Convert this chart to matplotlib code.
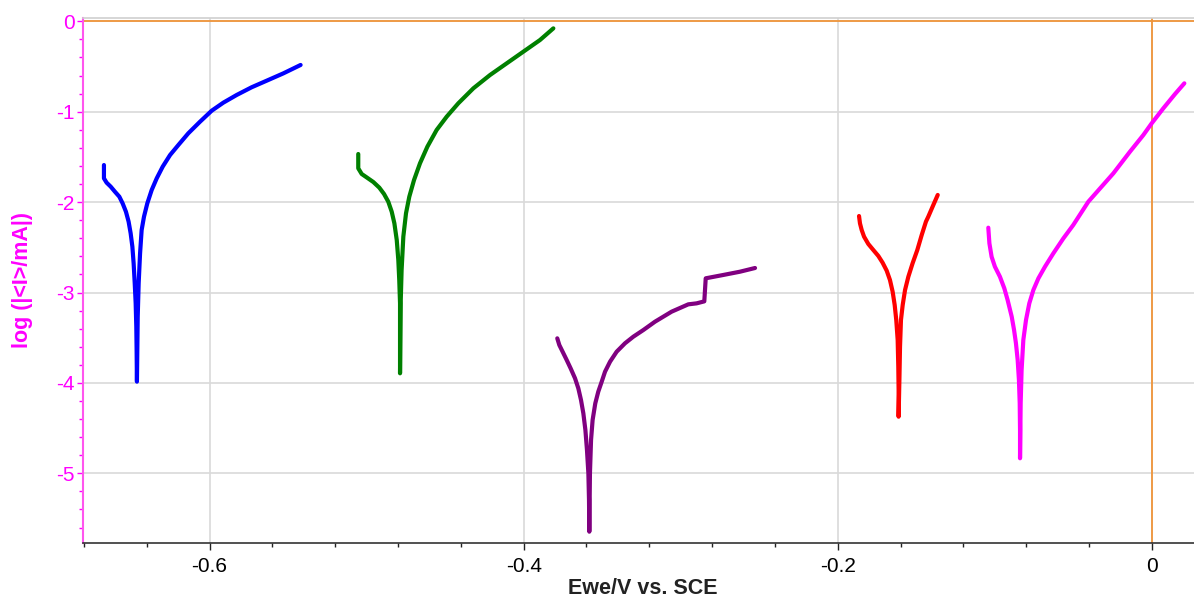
import matplotlib
matplotlib.use("Agg")
import matplotlib.pyplot as plt
from matplotlib.ticker import MultipleLocator

plt.rcParams['font.family'] = ['Liberation Sans', 'DejaVu Sans']

# Potential (V vs SCE) and log|I| (mA) for each polarisation curve
blue_x = [-0.6672, -0.6672, -0.6655, -0.6629, -0.6602, -0.6574, -0.6553, -0.6532, -0.6515,
          -0.6502, -0.6491, -0.6483, -0.6476, -0.6470, -0.6466, -0.6464, -0.6462,
          -0.6457, -0.6451, -0.6442, -0.6432, -0.6417, -0.6396, -0.6368, -0.6336, -0.6298,
          -0.6251, -0.6198, -0.6135, -0.6060, -0.5986, -0.5912, -0.5827, -0.5732, -0.5636,
          -0.5530, -0.5420]
blue_y = [-1.590, -1.737, -1.785, -1.829, -1.885, -1.940, -2.014, -2.106, -2.216,
          -2.345, -2.493, -2.677, -2.899, -3.120, -3.378, -3.636, -3.986,
          -3.267, -2.899, -2.567, -2.309, -2.161, -2.014, -1.866, -1.737, -1.608,
          -1.479, -1.368, -1.239, -1.110, -0.989, -0.900, -0.815, -0.730, -0.657,
          -0.576, -0.483]

green_x = [-0.5053, -0.5053, -0.5031, -0.5000, -0.4957, -0.4919, -0.4889, -0.4862, -0.4840,
           -0.4823, -0.4808, -0.4798, -0.4792, -0.4787, -0.4787, -0.4787,
           -0.4783, -0.4777, -0.4766, -0.4749, -0.4728, -0.4698, -0.4660, -0.4613, -0.4554,
           -0.4490, -0.4416, -0.4320, -0.4214, -0.4108, -0.4002, -0.3896, -0.3811]
green_y = [-1.468, -1.626, -1.689, -1.726, -1.778, -1.840, -1.910, -1.995, -2.106,
           -2.235, -2.419, -2.640, -2.862, -3.120, -3.489, -3.894,
           -3.120, -2.751, -2.382, -2.124, -1.940, -1.756, -1.571, -1.387, -1.202,
           -1.055, -0.907, -0.741, -0.594, -0.465, -0.336, -0.207, -0.078]

purple_x = [-0.3786, -0.3773, -0.3752, -0.3726, -0.3701, -0.3673, -0.3652, -0.3635, -0.3620,
            -0.3607, -0.3597, -0.3588, -0.3584, -0.3582,
            -0.3578, -0.3571, -0.3561, -0.3544, -0.3525, -0.3503, -0.3482, -0.3450, -0.3408,
            -0.3355, -0.3302, -0.3238, -0.3164, -0.3058, -0.2952, -0.2899, -0.2850,
            -0.2841, -0.2729, -0.2623, -0.2527]
purple_y = [-3.507, -3.581, -3.655, -3.747, -3.839, -3.949, -4.060, -4.189, -4.337,
            -4.521, -4.742, -5.000, -5.295, -5.646,
            -5.000, -4.631, -4.410, -4.226, -4.097, -3.986, -3.876, -3.765, -3.655,
            -3.562, -3.489, -3.415, -3.323, -3.212, -3.131, -3.120, -3.098,
            -2.843, -2.806, -2.770, -2.729]

red_x = [-0.1865, -0.1859, -0.1848, -0.1833, -0.1806, -0.1774, -0.1742, -0.1715, -0.1689,
         -0.1668, -0.1651, -0.1638, -0.1628, -0.1619, -0.1615, -0.1613, -0.1613,
         -0.1608, -0.1604, -0.1598, -0.1587, -0.1572, -0.1551, -0.1524, -0.1494, -0.1466,
         -0.1439, -0.1424, -0.1392, -0.1364]
red_y = [-2.154, -2.235, -2.309, -2.382, -2.463, -2.530, -2.596, -2.670, -2.758,
         -2.862, -2.991, -3.138, -3.304, -3.525, -3.820, -4.078, -4.374,
         -3.968, -3.599, -3.304, -3.138, -2.972, -2.825, -2.677, -2.530, -2.364,
         -2.216, -2.161, -2.032, -1.921]

magenta_x = [-0.1042, -0.1035, -0.1021, -0.1000, -0.0968, -0.0940, -0.0919, -0.0893, -0.0878,
             -0.0866, -0.0855, -0.0847, -0.0842, -0.0840, -0.0840,
             -0.0836, -0.0830, -0.0819, -0.0802, -0.0781, -0.0755, -0.0723, -0.0681, -0.0628,
             -0.0564, -0.0501, -0.0405, -0.0246, -0.0140, -0.0055, -0.0002, 0.0072,
             0.0147, 0.0206]
magenta_y = [-2.283, -2.456, -2.604, -2.714, -2.825, -2.954, -3.083, -3.267, -3.415,
             -3.562, -3.747, -3.968, -4.226, -4.521, -4.834,
             -4.226, -3.857, -3.525, -3.304, -3.120, -2.972, -2.843, -2.714, -2.567,
             -2.401, -2.253, -1.995, -1.682, -1.442, -1.258, -1.129, -0.963,
             -0.804, -0.686]

series = [(blue_x, blue_y, '#0000ff'), (green_x, green_y, '#008000'),
          (purple_x, purple_y, '#800080'), (red_x, red_y, '#ff0000'),
          (magenta_x, magenta_y, '#ff00ff')]

x_ticks = [-0.6, -0.4, -0.2, 0]
x_tick_labels = ['-0.6', '-0.4', '-0.2', '0']
y_ticks = [0, -1, -2, -3, -4, -5]
y_tick_labels = ['0', '-1', '-2', '-3', '-4', '-5']

W, H = 1194, 597
fig = plt.figure(figsize=(W / 100, H / 100), dpi=100)
ax_left, ax_right, ax_top, ax_bottom = 83, 1218, 18, 543
ax = fig.add_axes([ax_left / W, 1 - ax_bottom / H, (ax_right - ax_left) / W,
                   (ax_bottom - ax_top) / H])

# x: -0.6 at px 209.5, 1570.8 px per volt; y: 0 at px 21.3, 90.4 px per decade
ax.set_xlim(-0.6 + (ax_left - 209.5) / 1570.8, -0.6 + (ax_right - 209.5) / 1570.8)
ax.set_ylim(-(ax_bottom - 21.3) / 90.4, -(ax_top - 21.3) / 90.4)

ax.grid(True, color='#d9d9d9', linewidth=1.2, zorder=0)
ax.axhline(0, color='#f0953a', linewidth=1.3, zorder=2)
ax.axvline(0, color='#f0953a', linewidth=1.3, zorder=2)

for xs, ys, c in series:
    ax.plot(xs, ys, color=c, linewidth=3.0, solid_capstyle='round',
            solid_joinstyle='round', zorder=3)

ax.set_xticks(x_ticks)
ax.set_xticklabels(x_tick_labels)
ax.set_yticks(y_ticks)
ax.set_yticklabels(y_tick_labels)
ax.xaxis.set_minor_locator(MultipleLocator(0.04))
ax.yaxis.set_minor_locator(MultipleLocator(0.2))

ax.tick_params(axis='x', which='major', colors='#222222', labelsize=15, length=5, width=1, pad=5)
ax.tick_params(axis='x', which='minor', colors='#222222', length=3, width=1)
ax.tick_params(axis='y', which='major', colors='#ff00ff', labelsize=15, length=4, width=1, pad=2)
ax.tick_params(axis='y', which='minor', colors='#ff00ff', length=3, width=1)
ax.tick_params(axis='x', labelcolor='black')
ax.tick_params(axis='y', labelcolor='#ff00ff')

ax.spines['left'].set_color('#ff55ee')
ax.spines['left'].set_linewidth(1.5)
ax.spines['bottom'].set_color('#333333')
ax.spines['bottom'].set_linewidth(1.2)
ax.spines['top'].set_color('#d0d0d0')
ax.spines['top'].set_linewidth(1.2)
ax.spines['right'].set_visible(False)

ax.set_xlabel('Ewe/V vs. SCE', fontsize=15.5, fontweight='bold', color='#222222')
ax.set_ylabel('log (|<I>/mA|)', fontsize=15.5, fontweight='bold', color='#ff00ff')
axw, axh = ax_right - ax_left, ax_bottom - ax_top
ax.xaxis.set_label_coords((643 - ax_left) / axw, -(578 - ax_bottom) / axh)
ax.yaxis.set_label_coords((33 - ax_left) / axw, 0.5)

fig.savefig('out.png', dpi=100)
